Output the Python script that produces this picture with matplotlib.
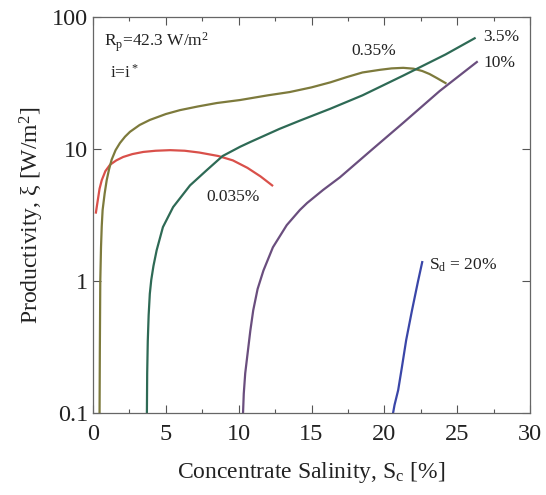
import matplotlib
matplotlib.use("Agg")
import matplotlib.pyplot as plt
import numpy as np
from matplotlib.ticker import FixedLocator, NullLocator, FixedFormatter

plt.rcParams['font.family'] = ['Liberation Serif', 'DejaVu Serif']
plt.rcParams['mathtext.fontset'] = 'custom'
plt.rcParams['mathtext.rm'] = 'Liberation Serif'
plt.rcParams['mathtext.it'] = 'Liberation Serif:italic'

# Sd = 0.035 %
x_0035 = [0.2, 0.3, 0.45, 0.6, 0.85, 1.17, 1.6, 2.07, 2.7, 3.45, 4.3, 5.3, 6.3, 7.3, 8.6, 9.6, 10.6, 11.5, 12.3]
y_0035 = [3.3, 3.9, 5.0, 5.8, 6.8, 7.6, 8.2, 8.7, 9.15, 9.5, 9.7, 9.8, 9.7, 9.4, 8.85, 8.2, 7.2, 6.2, 5.3]
# Sd = 0.35 %
x_035 = [0.45, 0.47, 0.5, 0.55, 0.6, 0.66, 0.8, 0.94, 1.1, 1.28, 1.55, 1.85, 2.2, 2.54, 3.2, 3.9, 5.0,
         5.97, 7.2, 8.5, 10.1, 12.0, 13.5, 15.0, 16.3, 17.4, 18.5, 19.7, 20.5, 21.3, 22.0, 22.6, 23.1, 23.6, 24.2]
y_035 = [0.1, 0.3, 1.0, 1.8, 2.6, 3.45, 4.6, 5.8, 7.0, 8.3, 9.8, 11.1, 12.4, 13.5, 15.2, 16.6, 18.4,
         19.7, 21.0, 22.3, 23.5, 25.5, 27.0, 29.3, 32.0, 35.0, 38.0, 39.8, 40.8, 41.2, 40.6, 39.0, 37.0, 34.5, 31.6]
# Sd = 3.5 %
x_35 = [3.7, 3.72, 3.76, 3.82, 3.9, 4.0, 4.15, 4.37, 4.8, 5.5, 6.66, 7.8, 8.9, 10.1, 10.8, 12.8, 14.2, 16.3, 18.5, 21.3, 24.2, 26.2]
y_35 = [0.1, 0.2, 0.35, 0.55, 0.8, 1.02, 1.3, 1.71, 2.56, 3.63, 5.3, 6.9, 8.85, 10.4, 11.3, 14.2, 16.4, 20.2, 25.5, 36.0, 52.0, 69.0]
# Sd = 10 %
x_10 = [10.3, 10.35, 10.45, 10.6, 10.8, 11.0, 11.3, 11.7, 12.35, 13.3, 14.2, 14.7, 15.8, 16.95, 19.2, 21.3, 23.8, 26.35]
y_10 = [0.1, 0.14, 0.2, 0.275, 0.42, 0.6, 0.87, 1.2, 1.8, 2.65, 3.45, 3.9, 4.9, 6.1, 10.0, 15.8, 27.5, 45.6]
# Sd = 20 %
x_20 = [20.6, 20.7, 20.95, 21.2, 21.5, 21.9, 22.3, 22.6]
y_20 = [0.1, 0.115, 0.149, 0.22, 0.357, 0.6, 0.98, 1.39]

fig = plt.figure(figsize=(5.46, 4.95), dpi=100)
ax = fig.add_axes([93/546, (495-413)/495, (530-93)/546, (413-17)/495])

ax.plot(x_0035, y_0035, color='#d9504a', lw=1.6)
ax.plot(x_035, y_035, color='#7d7a3c', lw=1.6)
ax.plot(x_35, y_35, color='#2e6a55', lw=1.6)
ax.plot(x_10, y_10, color='#6a4e7e', lw=1.6)
ax.plot(x_20, y_20, color='#3a46a8', lw=1.6)

ax.set_yscale('log')
ax.set_xlim(0, 30)
ax.set_ylim(0.1, 100)

ax.xaxis.set_major_locator(FixedLocator([0, 5, 10, 15, 20, 25, 30]))
ax.xaxis.set_minor_locator(FixedLocator([2.5, 7.5, 12.5, 17.5, 22.5, 27.5]))
ax.yaxis.set_major_locator(FixedLocator([0.1, 1, 10, 100]))
ax.yaxis.set_major_formatter(FixedFormatter(['0.1', '1', '10', '100']))
ax.yaxis.set_minor_locator(NullLocator())

ax.tick_params(which='both', direction='in', top=True, right=True, colors='#555555', labelcolor='#222222', labelsize=17.5)
ax.tick_params(which='major', length=6, width=0.8)
ax.tick_params(which='minor', length=3, width=0.8)
ax.tick_params(axis='x', pad=8)
for s in ax.spines.values():
    s.set_color('#666666')
    s.set_linewidth(0.9)

ax.set_xlabel('Concentrate Salinity, S$_\\mathrm{c}$ [%]', fontsize=17, color='#222222', labelpad=11)
ax.set_ylabel('Productivity, ξ [W/m$^2$]', fontsize=17, color='#222222', labelpad=4)

tc = '#222222'
ax.text(0.025, 0.935, 'R$_\\mathrm{p}$=42.3 W/m$^2$', transform=ax.transAxes, fontsize=12.5, color=tc, va='center')
ax.text(0.04, 0.86, 'i=i$^*$', transform=ax.transAxes, fontsize=12.5, color=tc, va='center')
ax.text(0.643, 0.914, '0.35%', transform=ax.transAxes, fontsize=12.5, color=tc, ha='center', va='center')
ax.text(0.935, 0.95, '3.5%', transform=ax.transAxes, fontsize=12.5, color=tc, ha='center', va='center')
ax.text(0.93, 0.885, '10%', transform=ax.transAxes, fontsize=12.5, color=tc, ha='center', va='center')
ax.text(0.32, 0.545, '0.035%', transform=ax.transAxes, fontsize=12.5, color=tc, ha='center', va='center')
ax.text(0.77, 0.372, 'S$_\\mathrm{d}$ = 20%', transform=ax.transAxes, fontsize=12.5, color=tc, va='center')

fig.savefig('out.png', dpi=100)
